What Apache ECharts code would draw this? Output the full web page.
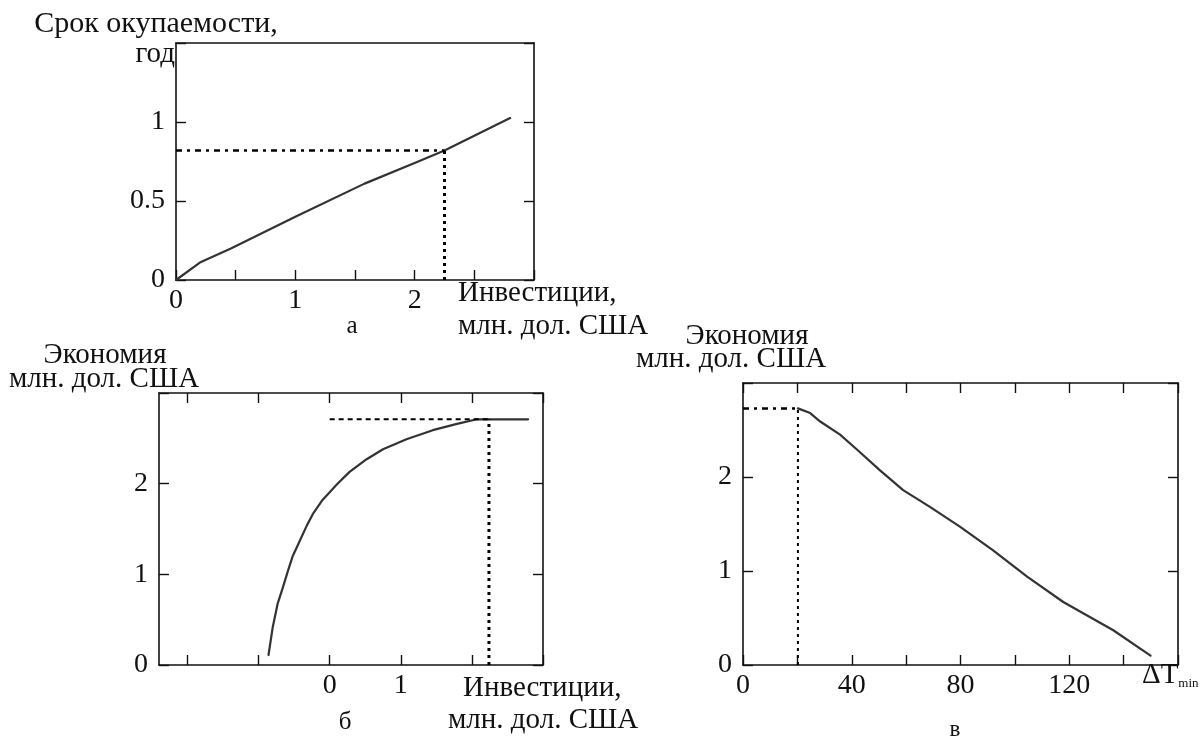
<!DOCTYPE html>
<html>
<head>
<meta charset="utf-8">
<script src="https://cdn.jsdelivr.net/npm/echarts@6/dist/echarts.min.js"></script>
<style>html,body{margin:0;padding:0;background:#fff}#c{width:1201px;height:737px}</style>
</head>
<body>
<div id="c"></div>
<script>
// Panel а: payback period vs investment
const aInvest = [0, 0.2, 0.46, 1.0, 1.58, 2.0, 2.25, 2.8];
const aPayback = [0, 0.11, 0.2, 0.40, 0.61, 0.74, 0.82, 1.025];
const aGuideX = 2.25;
const aGuideY = 0.82;
const aXTickLabels = [0, 1, 2];
const aYTickLabels = [0, 0.5, 1];

// Panel б: savings vs investment
const bInvest = [-0.86, -0.80, -0.73, -0.66, -0.59, -0.52, -0.42, -0.32, -0.24, -0.10, 0.10, 0.28, 0.52, 0.75, 1.08, 1.45, 1.79, 2.07, 2.24, 2.79];
const bSaving = [0.11, 0.42, 0.68, 0.85, 1.03, 1.20, 1.37, 1.54, 1.66, 1.82, 1.99, 2.13, 2.27, 2.38, 2.49, 2.59, 2.66, 2.71, 2.71, 2.71];
const bGuideX = 2.24;
const bGuideY = 2.71;
const bXTicks = [-2, -1, 0, 1, 2, 3];
const bXTickLabels = [0, 1];
const bYTickLabels = [0, 1, 2];

// Panel в: savings vs ΔTmin
const cDeltaT = [20.2, 24.7, 28.4, 35.7, 42.0, 50.4, 58.9, 68.9, 79.9, 92.0, 104.5, 117.8, 136.2, 149.9];
const cSaving = [2.73, 2.68, 2.59, 2.45, 2.29, 2.07, 1.86, 1.68, 1.47, 1.22, 0.94, 0.67, 0.37, 0.10];
const cGuideX = 20.2;
const cGuideY = 2.73;
const cXTickLabels = [0, 40, 80, 120];
const cYTickLabels = [0, 1, 2];

const FONT = 'Liberation Serif';
const INK = '#111';
const TICK_FS = 28;
const NAME_FS = 29;

function pairs(xs, ys) { return xs.map((x, i) => [x, ys[i]]); }
function fmtOnly(list) {
  return v => list.some(t => Math.abs(t - v) < 1e-9) ? String(v) : '';
}

function mkX(gi, min, max, interval, labels, opts) {
  opts = opts || {};
  const base = {
    type: 'value', gridIndex: gi, min: min, max: max,
    splitLine: {show: false},
    axisLine: {show: true, onZero: false, lineStyle: {color: INK, width: 1.6}},
    axisTick: {show: true, inside: true, length: 10, lineStyle: {color: INK, width: 1.4}},
  };
  if (interval != null) base.interval = interval;
  const bottom = Object.assign({}, base, {
    position: 'bottom',
    axisLabel: {show: true, color: INK, fontFamily: FONT, fontSize: TICK_FS, margin: 7,
      formatter: fmtOnly(labels)}
  });
  const top = Object.assign({}, base, {
    position: 'top', axisLabel: {show: false},
    axisTick: Object.assign({}, base.axisTick, {show: opts.topTicks !== false})
  });
  if (opts.ticks) {
    bottom.axisTick = Object.assign({}, base.axisTick, {customValues: opts.ticks});
    top.axisTick = Object.assign({}, top.axisTick, {customValues: opts.ticks});
    bottom.axisLabel.customValues = labels;
  }
  return [bottom, top];
}
function mkY(gi, min, max, interval, labels, labelPad) {
  const base = {
    type: 'value', gridIndex: gi, min: min, max: max, interval: interval,
    splitLine: {show: false},
    axisLine: {show: true, onZero: false, lineStyle: {color: INK, width: 1.6}},
    axisTick: {show: true, inside: true, length: 10, lineStyle: {color: INK, width: 1.4}},
  };
  const left = Object.assign({}, base, {
    position: 'left',
    axisLabel: {show: true, color: INK, fontFamily: FONT, fontSize: TICK_FS, margin: 11,
      padding: [0, 0, labelPad, 0], formatter: fmtOnly(labels)}
  });
  const right = Object.assign({}, base, {position: 'right', axisLabel: {show: false}});
  return [left, right];
}

const ax = mkX(0, 0, 3, 0.5, aXTickLabels, {topTicks: false});
const bx = mkX(1, -2.4, 3, null, bXTickLabels, {ticks: bXTicks});
const cx = mkX(2, 0, 160, 20, cXTickLabels, {});
const ay = mkY(0, 0, 1.5, 0.5, aYTickLabels, 8);
const by = mkY(1, 0, 3, 1, bYTickLabels, 12);
const cy = mkY(2, 0, 3, 1, cYTickLabels, 20);

const curve = {color: '#333', width: 2.2, join: 'round', cap: 'round'};
function lineSeries(xi, yi, data, style) {
  return {type: 'line', xAxisIndex: xi, yAxisIndex: yi, data: data, showSymbol: false,
    symbol: 'none', smooth: false, lineStyle: style, silent: true, z: 3};
}
const dotV = {color: '#000', width: 3, type: [3, 4]};
const dotH = {color: '#000', width: 2.5, type: [6, 5, 3, 5]};
const dotHb = {color: '#000', width: 2, type: [5, 4]};

const option = {
  animation: false,
  backgroundColor: '#fff',
  grid: [
    {left: 176, top: 43, width: 358, height: 237},
    {left: 159, top: 393, width: 384, height: 272},
    {left: 743, top: 383, width: 435, height: 282}
  ],
  xAxis: [ax[0], ax[1], bx[0], bx[1], cx[0], cx[1]],
  yAxis: [ay[0], ay[1], by[0], by[1], cy[0], cy[1]],
  series: [
    lineSeries(0, 0, pairs(aInvest, aPayback), curve),
    lineSeries(0, 0, [[aGuideX, 0], [aGuideX, aGuideY]], dotV),
    lineSeries(0, 0, [[0, aGuideY], [aGuideX, aGuideY]], dotH),
    lineSeries(2, 2, pairs(bInvest, bSaving), curve),
    lineSeries(2, 2, [[bGuideX, 0], [bGuideX, bGuideY]], dotV),
    lineSeries(2, 2, [[0, bGuideY], [bGuideX, bGuideY]], dotHb),
    lineSeries(4, 4, pairs(cDeltaT, cSaving), curve),
    lineSeries(4, 4, [[cGuideX, 0], [cGuideX, cGuideY]], {color: '#000', width: 2, type: [3, 4]}),
    lineSeries(4, 4, [[0, cGuideY], [cGuideX, cGuideY]], dotH)
  ],
  graphic: [
    T('Срок окупаемости,', 156, 24, 'center', 30),
    T('год', 175, 54, 'right', NAME_FS),
    T('Инвестиции,', 458, 293, 'left', NAME_FS),
    T('млн. дол. США', 458, 326, 'left', NAME_FS),
    T('а', 352, 326, 'center', 25),
    T('Экономия', 105, 355, 'center', NAME_FS),
    T('млн. дол. США', 104, 379, 'center', NAME_FS),
    T('Инвестиции,', 463, 688, 'left', NAME_FS),
    T('млн. дол. США', 448, 720, 'left', NAME_FS),
    T('б', 345, 722, 'center', 25),
    T('Экономия', 747, 336, 'center', NAME_FS),
    T('млн. дол. США', 731, 359, 'center', NAME_FS),
    T('в', 955, 730, 'center', 23),
    {type: 'text', left: 1142, top: 661, silent: true,
      style: {text: '{a|ΔT}{b|min}', rich: {
        a: {fontFamily: FONT, fontSize: 29, fill: INK, verticalAlign: 'bottom'},
        b: {fontFamily: FONT, fontSize: 13, fill: INK, verticalAlign: 'bottom'}
      }}}
  ]
};
function T(text, x, y, align, fs) {
  return {type: 'text', x: x, y: y, silent: true,
    style: {text: text, fontFamily: FONT, fontSize: fs, fill: INK, textAlign: align, textVerticalAlign: 'middle'}};
}
const chart = echarts.init(document.getElementById('c'), null, {renderer: 'canvas'});
chart.setOption(option);
</script>
</body>
</html>
